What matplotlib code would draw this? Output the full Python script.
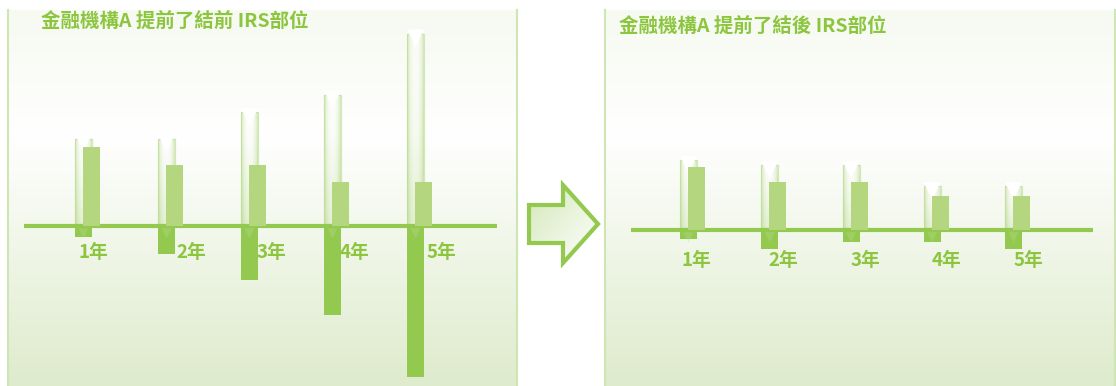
import matplotlib.pyplot as plt
import numpy as np
from matplotlib.patches import Polygon
from matplotlib.colors import to_rgb
import matplotlib.transforms as mtransforms

plt.rcParams['font.family'] = ['Noto Sans CJK TC', 'DejaVu Sans']

W, H = 1116, 386

years = ['1年', '2年', '3年', '4年', '5年']

# before early termination (gross / long / short)
before_gross = [5.0, 5.0, 6.5, 7.5, 11.0]
before_long = [4.5, 3.5, 3.5, 2.5, 2.5]
before_short = [-0.6, -1.6, -3.1, -5.1, -8.6]

# after early termination
after_gross = [4.0, 3.7, 3.7, 2.5, 2.5]
after_long = [3.6, 2.75, 2.75, 1.95, 1.95]
after_short = [-0.5, -1.1, -0.7, -0.7, -1.1]

GREEN = '#92c94e'
LIGHT = '#b3d67f'
TEXT = '#8cc63f'
BORDER = '#cfe5b4'

fig = plt.figure(figsize=(W / 100, H / 100), dpi=100)
fig.patch.set_facecolor('white')


def background(n):
    top = np.array(to_rgb('#f6faf1'))
    mid = np.array([1.0, 1.0, 1.0])
    bot = np.array(to_rgb('#deebcc'))
    img = np.zeros((n, 1, 3))
    for i in range(n):
        if i < 125:
            t = i / 125
            img[i, 0] = top + (mid - top) * t
        else:
            t = (i - 125) / (n - 125)
            img[i, 0] = mid + (bot - mid) * t
    return img


def glass_img():
    u = np.linspace(0, 1, 30)
    v = np.linspace(1, 0, 60)
    uu, vv = np.meshgrid(u, v)
    img = np.zeros((60, 30, 4))
    img[..., :3] = to_rgb('#bcdc93')
    a = 0.6 * np.abs(2 * uu - 1) ** 2.5 + 0.35 * (1 - vv) ** 1.5
    img[..., 3] = np.clip(a, 0, 0.8)
    return img


def draw_panel(px_l, px_r, px_t, px_b, zero_y, x0, dx, scale, line_px,
               gross, long_, short, title, title_xy, lab_off, lab_y):
    ax = fig.add_axes([px_l / W, 1 - px_b / H, (px_r - px_l) / W, (px_b - px_t) / H])
    xl = ((px_l - x0) / dx, (px_r - x0) / dx)
    yl = (-(px_b - zero_y) / scale, (zero_y - px_t) / scale)
    ax.imshow(background(int(px_b - px_t)), extent=(xl[0], xl[1], yl[0], yl[1]),
              aspect='auto', zorder=0)
    ax.set_xlim(*xl)
    ax.set_ylim(*yl)
    ax.set_xticks([])
    ax.set_yticks([])
    for s in ['top', 'bottom']:
        ax.spines[s].set_visible(False)
    for s in ['left', 'right']:
        ax.spines[s].set_color(BORDER)
        ax.spines[s].set_linewidth(1.5)

    x = np.arange(len(years))
    w = 17 / dx
    off = 8 / dx

    # glass (gross) bars
    bars = ax.bar(x, gross, width=w, color=(1, 1, 1, 0.4), edgecolor='#d3e8b8',
                  linewidth=0.9, zorder=2)
    gi = glass_img()
    for b in bars:
        im = ax.imshow(gi, extent=(b.get_x(), b.get_x() + b.get_width(), 0, b.get_height()),
                       aspect='auto', zorder=2.1)
        im.set_clip_path(b)
    down = mtransforms.offset_copy(ax.transData, fig=fig, x=0, y=-4.5, units='dots')
    ax.scatter(x, gross, marker='v', s=150, color='white', edgecolors='none',
               transform=down, zorder=2.2)

    # short positions
    ax.bar(x, short, width=w, color=GREEN, linewidth=0, zorder=3)
    down2 = mtransforms.offset_copy(ax.transData, fig=fig, x=0, y=-5, units='dots')
    ax.scatter(x, [0] * len(x), marker='v', s=110, color='#b8da8e', alpha=0.35,
               edgecolors='none', transform=down2, zorder=3.1)

    # zero line
    ax.plot([(line_px[0] - x0) / dx, (line_px[1] - x0) / dx], [0, 0], color=GREEN,
            linewidth=3, solid_capstyle='butt', zorder=3.5)

    # long positions
    ax.bar(x + off, long_, width=w, color=LIGHT, linewidth=0, zorder=4)

    for i, lab in enumerate(years):
        ax.text(i + lab_off[i] / dx, -(lab_y - zero_y) / scale, lab, ha='center',
                va='center', fontsize=13.5, fontweight='bold', color=TEXT, zorder=5)

    fig.text(title_xy[0] / W, 1 - title_xy[1] / H, title, ha='left', va='center',
             fontsize=14, fontweight='bold', color=TEXT)


draw_panel(8, 517, 10, 386, 226, 83.5, 83, 17.5, (24, 497),
           before_gross, before_long, before_short,
           '金融機構A 提前了結前 IRS部位', (41, 22), [10, 25, 22, 22, 26], 253)

draw_panel(605, 1115, 10, 386, 230, 688.5, 81.25, 17.5, (631, 1093),
           after_gross, after_long, after_short,
           '金融機構A 提前了結後 IRS部位', (619, 27), [8, 13.5, 14.5, 14.5, 14.5], 260)

# arrow between the panels
axa = fig.add_axes([520 / W, 1 - 275 / H, 90 / W, 100 / H])
axa.set_xlim(520, 610)
axa.set_ylim(275, 175)
axa.axis('off')
pts = [(529, 205), (563, 205), (563, 185), (598, 224), (563, 263), (563, 243), (529, 243)]
poly = Polygon(pts, closed=True, facecolor='none', edgecolor=GREEN, linewidth=3,
               joinstyle='miter', zorder=3)
axa.add_patch(poly)
g = np.linspace(0, 1, 60)
gx, gy = np.meshgrid(g, g)
t = np.clip((gx + gy) / 2, 0, 1)
arr = np.zeros((60, 60, 3))
c0 = np.array(to_rgb('#d3e8b9'))
for k in range(3):
    arr[..., k] = c0[k] + (1.0 - c0[k]) * t
im = axa.imshow(arr, extent=(529, 598, 263, 185), aspect='auto', zorder=2)
im.set_clip_path(Polygon(pts, closed=True, transform=axa.transData))

fig.savefig('out.png', dpi=100)
